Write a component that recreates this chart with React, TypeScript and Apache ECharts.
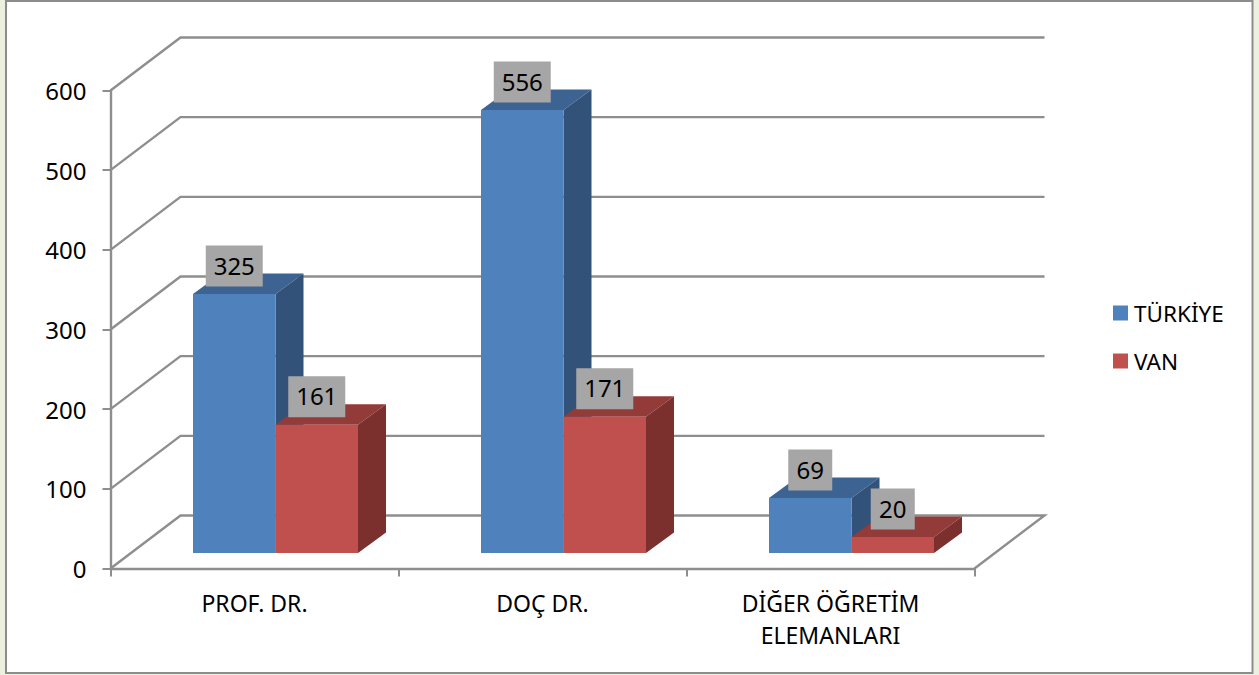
import React, { useEffect, useRef } from "react";
import * as echarts from "echarts";

const categories = ["PROF. DR.", "DOÇ DR.", "DİĞER ÖĞRETİM\nELEMANLARI"];
const turkiye = [325, 556, 69];
const van = [161, 171, 20];
const wallTicks = [0, 100, 200, 300, 400, 500, 600];

const FONT = "'Noto Sans', sans-serif";
const WALL_DX = 70;
const WALL_DY = -53;
const BAR_LIFT = 15.5;
const BAR_W = 82.5;
const BAR_SHIFT = 21;
const SIDE_DX = 28;
const SIDE_DY = -20.5;
const GRID_COLOR = "#8e8e8e";

function wallRender(_p: any, api: any) {
  const v = api.value(0);
  const c = api.coord([0, v]);
  const band = api.size([1, 0])[0];
  const left = c[0] - band / 2;
  const right = left + band * 3;
  const y = c[1];
  const points: number[][] = [
    [left, y],
    [left + WALL_DX, y + WALL_DY],
    [right + WALL_DX, y + WALL_DY],
  ];
  if (v === 0) points.push([right, y]);
  return {
    type: "polyline",
    shape: { points },
    style: { stroke: GRID_COLOR, lineWidth: 2.4, fill: "none" },
    silent: true,
  };
}

function barRender(side: number, front: string, top: string, dark: string) {
  return (_p: any, api: any) => {
    const i = api.value(0);
    const v = api.value(1);
    const base = api.coord([i, 0]);
    const head = api.coord([i, v]);
    const x0 = base[0] + BAR_SHIFT + (side < 0 ? -BAR_W : 0);
    const x1 = x0 + BAR_W;
    const y0 = base[1] - BAR_LIFT;
    const y1 = head[1] - BAR_LIFT;
    const text = String(v);
    const boxW = 18 + text.length * 13;
    const boxH = 41;
    const cx = (x0 + x1) / 2;
    const boxBottom = y1 - 7.5;
    return {
      type: "group",
      children: [
        {
          type: "polygon",
          shape: { points: [[x0, y1], [x1, y1], [x1 + SIDE_DX, y1 + SIDE_DY], [x0 + SIDE_DX, y1 + SIDE_DY]] },
          style: { fill: top },
        },
        {
          type: "polygon",
          shape: { points: [[x1, y0], [x1, y1], [x1 + SIDE_DX, y1 + SIDE_DY], [x1 + SIDE_DX, y0 + SIDE_DY]] },
          style: { fill: dark },
        },
        {
          type: "rect",
          shape: { x: x0, y: y1, width: BAR_W, height: y0 - y1 },
          style: { fill: front },
        },
        {
          type: "rect",
          shape: { x: cx - boxW / 2, y: boxBottom - boxH, width: boxW, height: boxH },
          style: { fill: "#a6a6a6" },
        },
        {
          type: "text",
          x: cx,
          y: boxBottom - boxH / 2 - 1,
          style: {
            text,
            fill: "#000",
            font: `24px ${FONT}`,
            align: "center",
            verticalAlign: "middle",
          },
        },
      ],
    };
  };
}

export default function App() {
  const ref = useRef<HTMLDivElement>(null);
  useEffect(() => {
    const chart = echarts.init(ref.current!, undefined, { renderer: "svg" });
    chart.setOption({
      animation: false,
      backgroundColor: "#ebf1de",
      textStyle: { fontFamily: FONT },
      graphic: [
        {
          type: "rect",
          z: -1,
          silent: true,
          shape: { x: 6, y: 1, width: 1246.5, height: 672 },
          style: { fill: "#fff", stroke: "#8c8c8c", lineWidth: 2 },
        },
      ],
      grid: { left: 110.5, top: 90.5, width: 864, height: 478 },
      legend: {
        orient: "vertical",
        left: 1108,
        top: 291,
        itemWidth: 15,
        itemHeight: 15,
        itemGap: 14,
        selectedMode: false,
        data: [
          { name: "TÜRKİYE", icon: "rect", itemStyle: { color: "#4f81bd" } },
          { name: "VAN", icon: "rect", itemStyle: { color: "#c0504d" } },
        ],
        textStyle: { fontFamily: FONT, fontSize: 22.5, color: "#000", padding: [0, 0, 4, 1], lineHeight: 30 },
      },
      xAxis: {
        type: "category",
        data: categories,
        axisLine: { lineStyle: { color: GRID_COLOR, width: 2.4 } },
        axisTick: { show: true, length: 8, lineStyle: { color: GRID_COLOR, width: 2 } },
        axisLabel: {
          color: "#000",
          fontFamily: FONT,
          fontSize: 23,
          lineHeight: 32,
          margin: 18,
          interval: 0,
        },
        splitLine: { show: false },
      },
      yAxis: {
        type: "value",
        min: 0,
        max: 600,
        interval: 100,
        axisLine: { show: true, lineStyle: { color: GRID_COLOR, width: 2.4 } },
        axisTick: { show: true, length: 8, lineStyle: { color: GRID_COLOR, width: 2 } },
        axisLabel: { color: "#000", fontFamily: FONT, fontSize: 24, margin: 24 },
        splitLine: { show: false },
      },
      series: [
        {
          type: "custom",
          silent: true,
          z: 1,
          clip: false,
          coordinateSystem: "cartesian2d",
          renderItem: wallRender,
          encode: { y: 0 },
          data: wallTicks.map((v) => [v]),
        },
        {
          name: "TÜRKİYE",
          type: "custom",
          z: 3,
          clip: false,
          renderItem: barRender(-1, "#4f81bd", "#3c6392", "#325279"),
          encode: { x: 0, y: 1 },
          data: turkiye.map((v, i) => [i, v]),
        },
        {
          name: "VAN",
          type: "custom",
          z: 4,
          clip: false,
          renderItem: barRender(1, "#c0504d", "#933b39", "#7c302e"),
          encode: { x: 0, y: 1 },
          data: van.map((v, i) => [i, v]),
        },
      ],
    });
    return () => chart.dispose();
  }, []);
  return (
    <div
      ref={ref}
      style={{ position: "fixed", left: 0, top: 0, width: 1259, height: 675 }}
    />
  );
}
